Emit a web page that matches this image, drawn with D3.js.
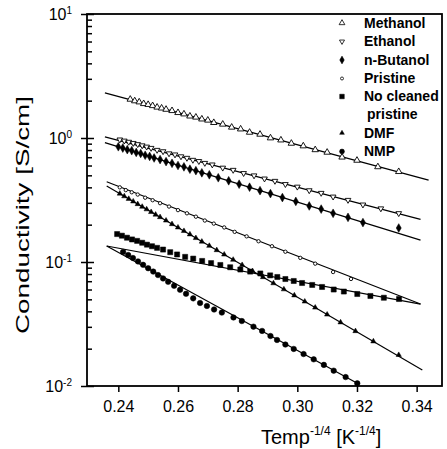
<!DOCTYPE html>
<html>
<head>
<meta charset="utf-8">
<script src="https://cdn.jsdelivr.net/npm/d3@7"></script>
<style>
  body { margin: 0; background: #fff; }
  svg { display: block; font-family: "Liberation Sans", Arial, sans-serif; }
</style>
</head>
<body>
<div id="svgOutput"></div>
<script>
// Data

const xMethanol = [0.244, 0.2455, 0.247, 0.2485, 0.250, 0.2515, 0.253, 0.2545, 0.256, 0.258, 0.260, 0.262, 0.264, 0.266, 0.268, 0.270, 0.272, 0.275, 0.278, 0.281, 0.284, 0.2875, 0.291, 0.2945, 0.298, 0.302, 0.306, 0.310, 0.315, 0.320, 0.327, 0.334];
const yMethanol = [2.05, 1.99, 1.95, 1.89, 1.86, 1.82, 1.77, 1.74, 1.70, 1.66, 1.60, 1.56, 1.50, 1.47, 1.42, 1.39, 1.33, 1.29, 1.22, 1.18, 1.11, 1.07, 1.00, 0.962, 0.905, 0.862, 0.803, 0.766, 0.700, 0.660, 0.585, 0.535];

const xEthanol = [0.2405, 0.242, 0.2435, 0.245, 0.2465, 0.248, 0.2495, 0.251, 0.253, 0.255, 0.257, 0.259, 0.261, 0.263, 0.265, 0.267, 0.269, 0.2715, 0.275, 0.2785, 0.282, 0.2855, 0.289, 0.2925, 0.296, 0.300, 0.304, 0.308, 0.312, 0.317, 0.322, 0.328, 0.334];
const yEthanol = [0.97, 0.95, 0.93, 0.91, 0.89, 0.87, 0.85, 0.83, 0.80, 0.78, 0.75, 0.735, 0.71, 0.69, 0.665, 0.65, 0.628, 0.61, 0.575, 0.552, 0.52, 0.498, 0.47, 0.45, 0.424, 0.404, 0.378, 0.36, 0.336, 0.316, 0.29, 0.27, 0.247];

const xButanol = [0.240, 0.2415, 0.243, 0.2445, 0.246, 0.2475, 0.249, 0.2505, 0.252, 0.254, 0.256, 0.258, 0.260, 0.262, 0.264, 0.266, 0.268, 0.2705, 0.2735, 0.277, 0.2805, 0.284, 0.2875, 0.291, 0.295, 0.2995, 0.304, 0.308, 0.312, 0.317, 0.322, 0.334];
const yButanol = [0.85, 0.83, 0.805, 0.79, 0.765, 0.75, 0.726, 0.71, 0.69, 0.67, 0.645, 0.625, 0.60, 0.585, 0.56, 0.545, 0.524, 0.505, 0.478, 0.452, 0.424, 0.401, 0.376, 0.356, 0.331, 0.308, 0.283, 0.267, 0.247, 0.229, 0.208, 0.188];

const xPristine = [0.2405, 0.2425, 0.2445, 0.2465, 0.249, 0.2515, 0.254, 0.257, 0.260, 0.263, 0.266, 0.269, 0.272, 0.2755, 0.279, 0.283, 0.287, 0.2915, 0.296, 0.301, 0.306, 0.312, 0.318];
const yPristine = [0.40, 0.38, 0.365, 0.35, 0.33, 0.315, 0.298, 0.28, 0.262, 0.247, 0.232, 0.216, 0.204, 0.19, 0.175, 0.161, 0.147, 0.134, 0.121, 0.108, 0.097, 0.083, 0.073];

const xNoCleaned = [0.2396, 0.2412, 0.2429, 0.2446, 0.2463, 0.2480, 0.2496, 0.2513, 0.2530, 0.2550, 0.2574, 0.2597, 0.2624, 0.2651, 0.2681, 0.2711, 0.2742, 0.2775, 0.2809, 0.2842, 0.2876, 0.2909, 0.2933, 0.2960, 0.2988, 0.3016, 0.3050, 0.3083, 0.3122, 0.3156, 0.3201, 0.3245, 0.3290, 0.3341];
const yNoCleaned = [0.168, 0.163, 0.157, 0.152, 0.148, 0.143, 0.138, 0.134, 0.130, 0.126, 0.120, 0.115, 0.110, 0.1065, 0.102, 0.098, 0.0946, 0.0907, 0.087, 0.0837, 0.0808, 0.078, 0.0757, 0.0729, 0.0703, 0.0677, 0.0653, 0.0629, 0.060, 0.0578, 0.0552, 0.0532, 0.0515, 0.0503];

const xDMF = [0.2405, 0.242, 0.2435, 0.245, 0.2465, 0.248, 0.2495, 0.251, 0.2525, 0.254, 0.256, 0.258, 0.260, 0.262, 0.264, 0.266, 0.268, 0.2705, 0.273, 0.2755, 0.2785, 0.2815, 0.285, 0.2885, 0.292, 0.2955, 0.299, 0.3025, 0.306, 0.310, 0.3145, 0.3195, 0.3255, 0.334];
const yDMF = [0.356, 0.339, 0.323, 0.308, 0.293, 0.279, 0.266, 0.253, 0.241, 0.230, 0.216, 0.202, 0.190, 0.178, 0.167, 0.156, 0.146, 0.135, 0.1246, 0.1149, 0.1043, 0.0946, 0.0845, 0.0755, 0.0674, 0.0602, 0.0538, 0.0480, 0.0429, 0.0377, 0.0326, 0.0277, 0.0229, 0.0178];

const xNMP = [0.2416, 0.2433, 0.2449, 0.2466, 0.2483, 0.2500, 0.2517, 0.2533, 0.2550, 0.2567, 0.2587, 0.2607, 0.2627, 0.2651, 0.2674, 0.2697, 0.2721, 0.2747, 0.2786, 0.2814, 0.2853, 0.2882, 0.2910, 0.2932, 0.2960, 0.2988, 0.3021, 0.3055, 0.3089, 0.3122, 0.3162, 0.3201];
const yNMP = [0.1204, 0.1139, 0.1077, 0.1011, 0.0949, 0.0891, 0.0837, 0.0785, 0.0737, 0.0692, 0.0643, 0.0597, 0.0554, 0.0509, 0.0467, 0.0442, 0.0414, 0.0391, 0.0357, 0.0334, 0.0301, 0.0278, 0.0253, 0.0235, 0.0216, 0.0199, 0.0181, 0.0164, 0.0148, 0.0133, 0.0118, 0.0105];

// Fitted lines: [x, sigma] at both ends
const fitMethanol = [[0.2355, 2.31], [0.3440, 0.458]];
const fitEthanol = [[0.2355, 1.02], [0.3413, 0.221]];
const fitButanol = [[0.2355, 0.917], [0.3413, 0.150]];
const fitPristine = [[0.2361, 0.444], [0.3413, 0.0458]];
const fitNoCleaned = [[0.2361, 0.1346], [0.3413, 0.0458]];
const fitDMF = [[0.2361, 0.410], [0.3419, 0.01346]];
const fitNMP = [[0.2361, 0.1346], [0.3201, 0.01051]];

const xTicks = [0.24, 0.26, 0.28, 0.30, 0.32, 0.34];
const yTicks = [0.01, 0.1, 1, 10];
const legendLabels = ["Methanol", "Ethanol", "n-Butanol", "Pristine", "No cleaned", "DMF", "NMP"];

(function () {
  document.addEventListener('DOMContentLoaded', function () {

    // Config

    const width = 447;
    const height = 449;
    const margin = {
      "top": 14,
      "bottom": 63,
      "left": 87,
      "right": 5
    }

    const svg = d3.select("#svgOutput")
      .append("svg")
      .attr("width", width)
      .attr("height", height);

    // Set up scales

    const xScale = d3.scaleLinear()
      .domain([0.2295, 0.3485])
      .range([margin.left, width - margin.right]);

    const yScale = d3.scaleLog()
      .domain([0.01, 10])
      .range([height - margin.bottom, margin.top]);

    // Series table

    const series = [
      { x: xMethanol, y: yMethanol, fit: fitMethanol, shape: d3.symbolTriangle, size: 18, filled: false, rot: 0 },
      { x: xEthanol, y: yEthanol, fit: fitEthanol, shape: d3.symbolTriangle, size: 14, filled: false, rot: 180 },
      { x: xButanol, y: yButanol, fit: fitButanol, shape: d3.symbolDiamond, size: 22, filled: true, rot: 0 },
      { x: xPristine, y: yPristine, fit: fitPristine, shape: d3.symbolCircle, size: 9, filled: false, rot: 0 },
      { x: xNoCleaned, y: yNoCleaned, fit: fitNoCleaned, shape: d3.symbolSquare, size: 26, filled: true, rot: 0 },
      { x: xDMF, y: yDMF, fit: fitDMF, shape: d3.symbolTriangle, size: 12, filled: true, rot: 0 },
      { x: xNMP, y: yNMP, fit: fitNMP, shape: d3.symbolCircle, size: 24, filled: true, rot: 0 }
    ];

    // Fit lines

    const line = d3.line()
      .x(d => xScale(d[0]))
      .y(d => yScale(d[1]));

    svg.append("g")
      .selectAll("path")
      .data(series)
      .join("path")
      .attr("d", d => line(d.fit))
      .attr("fill", "none")
      .attr("stroke", "#000")
      .attr("stroke-width", 1.2);

    // Markers

    series.forEach(s => {
      const pts = s.x.map((xv, i) => [xv, s.y[i]]);
      svg.append("g")
        .selectAll("path")
        .data(pts)
        .join("path")
        .attr("d", d3.symbol().type(s.shape).size(s.size))
        .attr("transform", d => `translate(${xScale(d[0])},${yScale(d[1])}) rotate(${s.rot})`)
        .attr("fill", s.filled ? "#000" : "#fff")
        .attr("stroke", "#000")
        .attr("stroke-width", s.filled ? 0.5 : 0.9);
    });

    // Axes

    const xAxis = d3.axisBottom(xScale)
      .tickValues(xTicks)
      .tickFormat(d3.format(".2f"))
      .tickSize(6)
      .tickPadding(9);

    const gx = svg.append("g")
      .attr("transform", "translate(0," + (height - margin.bottom) + ")")
      .call(xAxis);

    gx.select(".domain").remove();
    gx.selectAll(".tick line").attr("stroke-width", 1.5);
    gx.selectAll(".tick text")
      .attr("font-size", 16)
      .attr("font-family", "Liberation Sans, Arial, sans-serif")
      .attr("fill", "#000");

    const minor = [];
    [0.01, 0.1, 1].forEach(dec => {
      for (let k = 2; k <= 9; k++) minor.push(dec * k);
    });

    const gyMinor = svg.append("g")
      .attr("transform", "translate(" + margin.left + ",0)")
      .call(d3.axisRight(yScale).tickValues(minor).tickSize(5).tickFormat(""));
    gyMinor.select(".domain").remove();
    gyMinor.selectAll(".tick line").attr("stroke-width", 1.5);

    const gy = svg.append("g")
      .attr("transform", "translate(" + margin.left + ",0)")
      .call(d3.axisLeft(yScale).tickValues(yTicks).tickSize(6).tickPadding(9));

    gy.select(".domain").remove();
    gy.selectAll(".tick line")
      .attr("x1", 7)
      .attr("x2", -6)
      .attr("stroke-width", 1.5);

    gy.selectAll(".tick text")
      .attr("font-family", "Liberation Sans, Arial, sans-serif")
      .attr("fill", "#000")
      .attr("font-size", 16)
      .text(null)
      .each(function (d) {
        const t = d3.select(this);
        t.append("tspan").text("10");
        t.append("tspan")
          .attr("dy", "-0.55em")
          .attr("font-size", 10)
          .text(Math.round(Math.log10(d)));
      });

    // Frame

    svg.append("rect")
      .attr("x", margin.left)
      .attr("y", margin.top)
      .attr("width", width - margin.left - margin.right)
      .attr("height", height - margin.top - margin.bottom)
      .attr("fill", "none")
      .attr("stroke", "#000")
      .attr("stroke-width", 1.8);

    // Axis titles

    const xt = svg.append("text")
      .attr("x", 261)
      .attr("y", 444)
      .attr("font-size", 20)
      .attr("fill", "#000");
    xt.append("tspan").text("Temp");
    xt.append("tspan").attr("dy", -9).attr("font-size", 12).text("-1/4");
    xt.append("tspan").attr("dy", 9).text(" [K");
    xt.append("tspan").attr("dy", -9).attr("font-size", 12).text("-1/4");
    xt.append("tspan").attr("dy", 9).text("]");

    svg.append("text")
      .attr("transform", "translate(29,215) rotate(-90)")
      .attr("text-anchor", "middle")
      .attr("font-size", 19)
      .attr("textLength", 238)
      .attr("lengthAdjust", "spacingAndGlyphs")
      .attr("fill", "#000")
      .text("Conductivity [S/cm]");

    // Legend

    const rowY = [23, 41.5, 60, 78.5, 96.5, 133, 151.5];
    const legend = svg.append("g").attr("font-size", 14).attr("font-weight", "bold");

    series.forEach((s, i) => {
      legend.append("path")
        .attr("d", d3.symbol().type(s.shape).size(s.size * 0.8))
        .attr("transform", `translate(342,${rowY[i]}) rotate(${s.rot})`)
        .attr("fill", s.filled ? "#000" : "#fff")
        .attr("stroke", "#000")
        .attr("stroke-width", s.filled ? 0.5 : 0.8);

      legend.append("text")
        .attr("x", 364)
        .attr("y", rowY[i])
        .attr("dy", "0.35em")
        .text(legendLabels[i]);
    });

    legend.append("text")
      .attr("x", 367)
      .attr("y", 114.5)
      .attr("dy", "0.35em")
      .text("pristine");

  });
})();
</script>
</body>
</html>
